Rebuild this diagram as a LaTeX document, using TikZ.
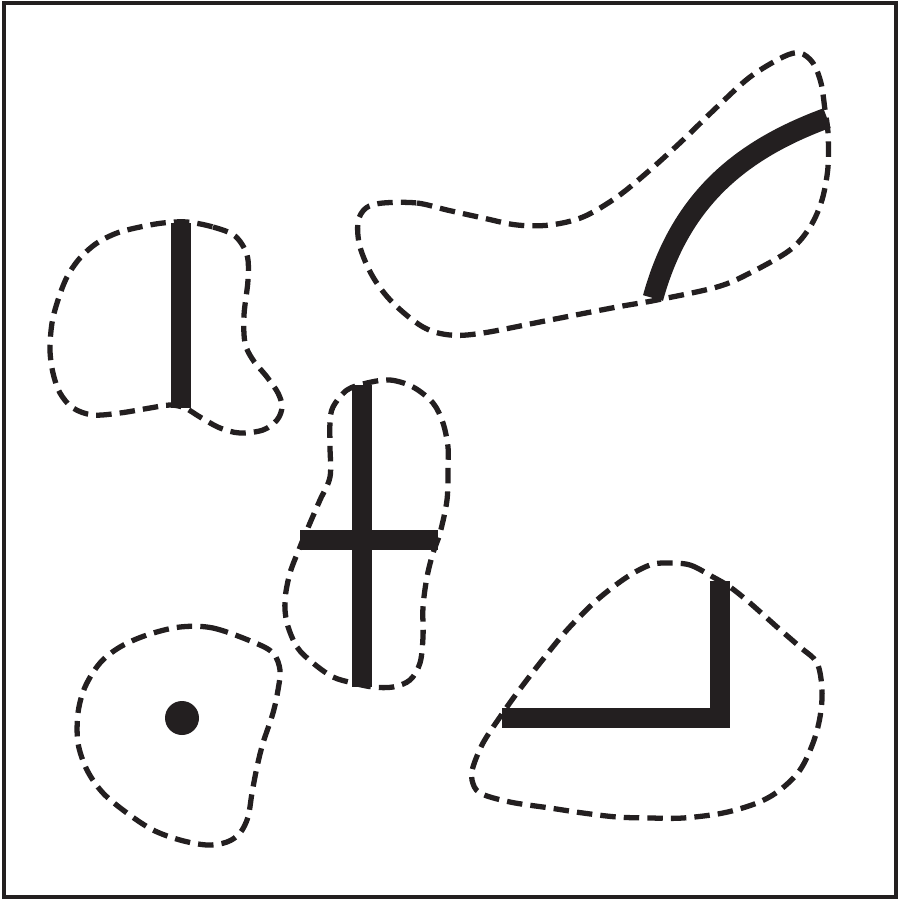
\documentclass[tikz,border=0pt]{standalone}
\usepackage{xcolor}
\definecolor{inkdark}{RGB}{35,31,32}
\usepackage{tikz}

\begin{document}
\begin{tikzpicture}[
  x=0.01cm, y=-0.01cm,
  region/.style={draw=inkdark, line width=1.5pt, dash pattern=on 4.4pt off 2.3pt},
  bar/.style={draw=inkdark, line width=5.9pt, line cap=butt, line join=miter},
  frame/.style={draw=inkdark, line width=0.9pt}
]
  \useasboundingbox (0,0) rectangle (900,900);
  \draw[frame] (4,3) rectangle (896,897);

  % Regions
  \draw[region] plot[smooth cycle, tension=0.55] coordinates {(187,222) (213,227) (235,236) (247,255) (248,280) (244,315) (245,343) (253,360) (267,377) (278,393) (282,407) (277,420) (263,430) (240,433) (220,428) (200,417) (185,408) (170,405) (150,408) (120,413) (93,415) (73,408) (60,393) (53,373) (50,350) (52,323) (58,300) (67,277) (80,258) (97,243) (117,233) (140,227) (163,223)};
  \draw[region] plot[smooth cycle, tension=0.55] coordinates {(383,203) (417,203) (447,210) (483,218) (517,225) (550,225) (583,217) (617,197) (650,170) (683,140) (717,107) (750,77) (783,57) (800,53) (813,63) (821,83) (825,110) (828,133) (828,167) (822,200) (810,227) (790,250) (750,273) (717,287) (657,300) (617,307) (550,320) (483,333) (450,335) (423,327) (393,303) (373,277) (360,247) (358,222) (366,208)};
  \draw[region] plot[smooth cycle, tension=0.55] coordinates {(367,383) (390,380) (413,387) (433,403) (443,423) (448,447) (448,467) (447,500) (440,533) (433,553) (427,577) (423,607) (423,637) (420,663) (410,680) (393,687) (373,687) (353,683) (333,677) (313,663) (297,647) (287,623) (285,600) (290,573) (300,547) (310,523) (320,500) (330,477) (330,447) (330,423) (333,407) (347,390)};
  \draw[region] plot[smooth cycle, tension=0.55] coordinates {(180,627) (213,628) (253,642) (273,653) (280,670) (278,690) (273,713) (263,743) (257,767) (252,793) (248,817) (240,833) (227,842) (207,845) (180,840) (153,830) (127,813) (103,793) (87,770) (78,743) (78,713) (85,687) (100,663) (120,647) (147,635)};
  \draw[region] plot[smooth cycle, tension=0.55] coordinates {(667,563) (690,565) (713,577) (730,587) (750,603) (777,627) (800,647) (817,663) (822,690) (820,717) (813,743) (800,770) (780,790) (757,803) (723,813) (683,818) (650,818) (617,817) (583,813) (550,808) (510,802) (480,793) (472,780) (473,767) (483,743) (500,717) (517,693) (540,663) (567,630) (597,600) (627,577) (650,565)};

  % Marks
  \draw[bar] (181,223) -- (181,408);
  \draw[bar] (653,298) .. controls (680,200) and (740,150) .. (827,118);
  \draw[bar] (362,385) -- (362,687);
  \draw[bar] (300,540) -- (438,540);
  \draw[bar] (502,718) -- (720,718) -- (720,581);
  \fill[inkdark] (182,718) circle [radius=17];
\end{tikzpicture}
\end{document}
